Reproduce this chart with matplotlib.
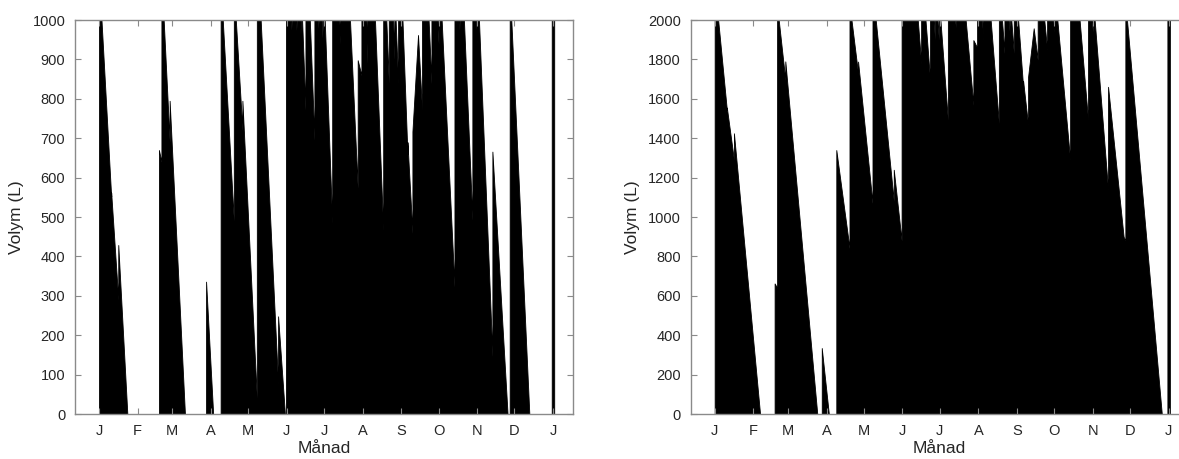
import matplotlib
matplotlib.use("Agg")
import matplotlib.pyplot as plt

# month starts (day of year) and their labels
month_days = [0, 31, 59, 90, 120, 151, 181, 212, 243, 273, 304, 334, 365]
month_labels = ['J', 'F', 'M', 'A', 'M', 'J', 'J', 'A', 'S', 'O', 'N', 'D', 'J']

# tank volume, 1000 L tank (left)
small_day = [
    0, 0, 2, 9.8, 9.8, 15.5, 15.5, 22.8,
    48.2, 48.2, 50.2, 50.2, 52, 56.8, 56.8, 69.1,
    86.1, 86.1, 91.8,
    97.8, 97.8, 99.5, 108.4, 108.4, 110, 115.3, 115.3, 126.9, 126.9, 130, 144, 144, 149.5,
    150.3, 150.3,
    154.4, 155, 155, 158.4, 159, 159, 161.5, 162.1, 162.1,
    163.3, 166, 166, 169.5, 173.2, 173.2,
    176.2, 177, 177, 179.2, 180.2, 180.2,
    181.5, 187.5, 187.5, 193.2, 194, 194,
    201.8, 208, 208, 211, 211, 215, 215.8, 215.8,
    221.9, 228.5, 228.5, 231, 233, 233, 236.5, 237.5, 237.5, 238.5, 240.5, 240.5,
    244, 248, 248, 252, 252, 256.5, 259.7, 259.7,
    265, 267.3, 267.3, 272.2, 273, 273,
    275.5, 285.8, 285.8, 289.5, 290, 290,
    293.4, 300.2, 300.2, 303.2, 304, 304,
    305.5, 316.3, 316.3, 328.5,
    330.2, 330.2, 331.5, 346,
    364, 364, 366, 366,
]
small_vol = [
    0, 1000, 1000, 552, 562, 290, 429, 0,
    0, 670, 640, 1000, 1000, 690, 795, 0,
    0, 336, 0,
    0, 1000, 1000, 490, 1000, 1000, 720, 795, 40, 1000, 1000, 75, 248, 0,
    0, 1000,
    1000, 960, 1000, 1000, 960, 1000, 1000, 960, 1000,
    1000, 772, 1000, 1000, 695, 1000,
    1000, 940, 1000, 1000, 910, 1000,
    1000, 484, 1000, 1000, 940, 1000,
    1000, 573, 898, 860, 1000, 1000, 890, 1000,
    1000, 467, 1000, 1000, 839, 1000, 1000, 900, 1000, 1000, 839, 1000,
    1000, 660, 690, 459, 717, 962, 772, 1000,
    1000, 839, 1000, 1000, 940, 1000,
    1000, 323, 1000, 1000, 965, 1000,
    1000, 492, 1000, 1000, 940, 1000,
    1000, 146, 666, 0,
    0, 1000, 1000, 0,
    0, 1000, 1000, 0,
]

# tank volume, 2000 L tank (right)
large_day = [
    0, 0, 2.8, 9.8, 9.8, 15.5, 15.5, 36.5,
    48.2, 48.2, 50.2, 50.2, 51.5, 56.8, 56.8, 82.5,
    86.1, 86.1, 91.8,
    97.8, 97.8, 108.4, 108.4, 110, 115.3, 115.3, 126.9, 126.9, 129.5, 144, 144, 150.3, 150.3,
    154.4, 155, 155, 158.4, 159, 159, 161.5, 162.1, 162.1,
    163.3, 166, 166, 169.5, 173.2, 173.2,
    176.2, 177, 177, 179.2, 180.2, 180.2,
    181.5, 187.5, 187.5, 193.2, 194, 194,
    201.8, 208, 208, 211, 211, 215, 215.8, 215.8,
    221.9, 228.5, 228.5, 231, 233, 233, 236.5, 237.5, 237.5, 238.5, 240.5, 240.5,
    244, 248, 248, 252, 252, 256.5, 259.7, 259.7,
    265, 267.3, 267.3, 272.2, 273, 273,
    275.5, 285.8, 285.8, 289.5, 290, 290,
    293.4, 300.2, 300.2, 303.2, 304, 304,
    305.5, 316.3, 316.3, 328.8, 330.2, 330.2, 331.5, 359.5,
    364, 364, 366, 366,
]
large_vol = [
    0, 2000, 2000, 1543, 1555, 1290, 1425, 0,
    0, 663, 640, 2000, 2000, 1695, 1790, 0,
    0, 335, 0,
    0, 1340, 842, 2000, 2000, 1729, 1789, 1070, 2000, 2000, 1080, 1240, 880, 2000,
    2000, 1960, 2000, 2000, 1960, 2000, 2000, 1960, 2000,
    2000, 1780, 2000, 2000, 1695, 2000,
    2000, 1900, 2000, 2000, 1900, 2000,
    2000, 1492, 2000, 2000, 1960, 2000,
    2000, 1568, 1898, 1860, 2000, 2000, 1900, 2000,
    2000, 1475, 2000, 2000, 1831, 2000, 2000, 1900, 2000, 2000, 1831, 2000,
    2000, 1660, 1690, 1467, 1712, 1958, 1797, 2000,
    2000, 1848, 2000, 2000, 1940, 2000,
    2000, 1289, 2000, 2000, 1965, 2000,
    2000, 1492, 2000, 2000, 1940, 2000,
    2000, 1137, 1661, 900, 880, 2000, 2000, 0,
    0, 2000, 2000, 0,
]

plt.rcParams['font.family'] = ['Liberation Sans', 'DejaVu Sans']

fig = plt.figure(figsize=(11.79, 4.59), dpi=100)
ax1 = fig.add_axes([0.0636, 0.098, 0.4224, 0.8584])
ax2 = fig.add_axes([0.5858, 0.098, 0.4224, 0.8584])

frame = '#8a8a8a'
txt = '#262626'

for ax, d, v, top, step in [(ax1, small_day, small_vol, 1000, 100),
                            (ax2, large_day, large_vol, 2000, 200)]:
    ax.fill_between(d, v, 0, color='k', linewidth=0.6, edgecolor='k')
    ax.set_xlim(-19.3, 381.1)
    ax.set_ylim(0, top)
    ax.set_xticks(month_days)
    ax.set_xticklabels(month_labels)
    ax.set_yticks(range(0, top + 1, step))
    ax.tick_params(direction='in', length=4, width=0.8, color=frame,
                   labelcolor=txt, labelsize=10.5, top=True, right=True, pad=7)
    for s in ax.spines.values():
        s.set_color(frame)
        s.set_linewidth(1.0)
    ax.set_xlabel('Månad', fontsize=12.5, color=txt, labelpad=2)
    ax.set_ylabel('Volym (L)', fontsize=12.5, color=txt, labelpad=6)

fig.savefig('out.png', dpi=100)
